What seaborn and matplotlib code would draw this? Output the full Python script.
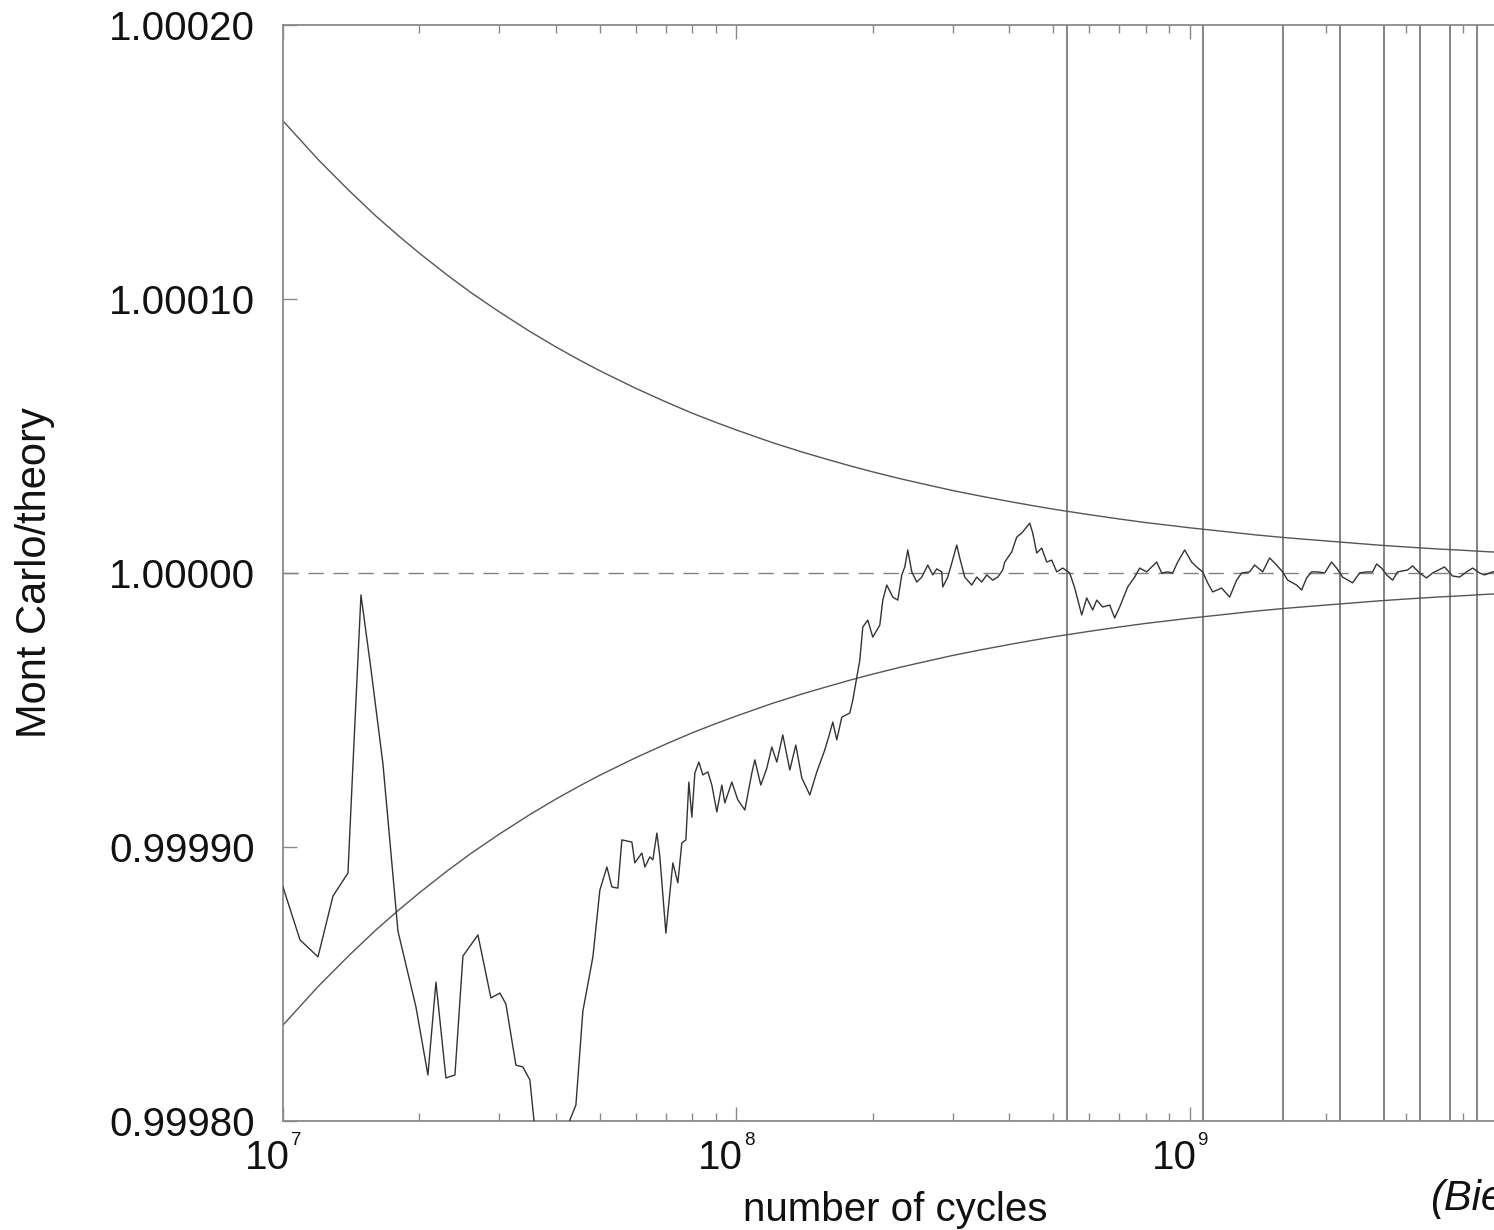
import numpy as np
import pandas as pd
import matplotlib
matplotlib.use("Agg")
import matplotlib.pyplot as plt
import seaborn as sns
from matplotlib.ticker import FixedLocator, LogLocator, NullFormatter, NullLocator, FixedFormatter

# ---------------- data ----------------
# Monte Carlo running ratio: log10(number of cycles) and deviation from 1 in units of 1e-5
mc_log10_cycles = [
    7.000, 7.0375, 7.0772, 7.1103, 7.1433, 7.1544, 7.1720, 7.1940, 7.2205, 7.2492,
    7.2536, 7.2933, 7.3197, 7.3374, 7.3594, 7.3793, 7.3969, 7.4300, 7.4587, 7.4785,
    7.4917, 7.5138, 7.5292, 7.5446, 7.5535, 7.5930, 7.6329, 7.6461, 7.6615,
    7.6836, 7.6990, 7.7145, 7.7255, 7.7387, 7.7475, 7.7696, 7.7762, 7.7916, 7.7983,
    7.8093, 7.8159, 7.8247, 7.8313, 7.8446, 7.8600, 7.8710, 7.8798, 7.8887, 7.8953,
    7.9019, 7.9085, 7.9173, 7.9261, 7.9372, 7.9460, 7.9570, 7.9680, 7.9747, 7.9901,
    8.0033, 8.0188, 8.0342, 8.0408, 8.0540, 8.0673, 8.0783, 8.0893, 8.1025, 8.1180,
    8.1312, 8.1444, 8.1621, 8.1775, 8.1951, 8.2062, 8.2128, 8.2216, 8.2327, 8.2503,
    8.2569, 8.2658, 8.2724, 8.2790, 8.2900, 8.3010, 8.3165, 8.3231, 8.3319, 8.3451,
    8.3561, 8.3650, 8.3716, 8.3782, 8.3870, 8.3980, 8.4091, 8.4223, 8.4333, 8.4421,
    8.4532, 8.4554, 8.4664, 8.4752, 8.4862, 8.4928, 8.5039, 8.5193, 8.5303, 8.5413,
    8.5524, 8.5656, 8.5766, 8.5877, 8.5921, 8.6075, 8.6185, 8.6296, 8.6406, 8.6472,
    8.6538, 8.6627, 8.6737, 8.6847, 8.6957, 8.7068, 8.7200, 8.7354, 8.7465, 8.7619,
    8.7729, 8.7862, 8.7950, 8.8082, 8.8236, 8.8346, 8.8457, 8.8633, 8.8787, 8.8898,
    8.9052, 8.9272, 8.9383, 8.9515, 8.9625, 8.9736, 8.9890, 9.0044, 9.0154, 9.0287,
    9.0397, 9.0507, 9.0706, 9.0882, 9.1036, 9.1147, 9.1323, 9.1433, 9.1610, 9.1764,
    9.1918, 9.2051, 9.2161, 9.2359, 9.2470, 9.2580, 9.2690, 9.2823, 9.2977, 9.3131,
    9.3241, 9.3374, 9.3594, 9.3749, 9.3903, 9.4035, 9.4124, 9.4234, 9.4344, 9.4477,
    9.4587, 9.4807, 9.4918, 9.5072, 9.5226, 9.5358, 9.5623, 9.5799, 9.5954, 9.6108,
    9.6240, 9.6395, 9.6505, 9.6681, 9.6836,
]
mc_dev_1e5 = [
    -11.46, -13.39, -14.01, -11.79, -10.95, -6.97, -0.80, -3.50, -6.97, -12.26,
    -13.07, -15.84, -18.32, -14.93, -18.43, -18.32, -13.98, -13.21, -15.51, -15.33,
    -15.73, -17.96, -18.03, -18.50, -19.96, -22.90, -19.96, -19.42, -15.99,
    -14.01, -11.57, -10.73, -11.46, -11.50, -9.74, -9.82, -10.58, -10.22, -10.73,
    -10.36, -10.47, -9.49, -10.36, -13.14, -10.58, -11.31, -9.85, -9.74, -7.63,
    -8.91, -7.30, -6.90, -7.37, -7.26, -7.74, -8.72, -7.74, -8.39, -7.63,
    -8.28, -8.65, -7.30, -6.82, -7.74, -7.12, -6.35, -6.90, -5.91, -7.19,
    -6.28, -7.48, -8.10, -7.26, -6.46, -5.84, -5.44, -6.09, -5.26, -5.11,
    -4.64, -3.80, -3.18, -1.97, -1.72, -2.34, -1.90, -0.99, -0.44, -0.88,
    -0.99, -0.07, 0.22, 0.84, 0.04, -0.33, -0.15, 0.29, -0.07, 0.15,
    0.04, -0.51, -0.15, 0.36, 1.02, 0.55, -0.15, -0.44, -0.15, -0.33,
    -0.07, -0.26, -0.15, 0.11, 0.40, 0.77, 1.31, 1.46, 1.68, 1.82,
    1.46, 0.73, 0.91, 0.40, 0.47, 0.04, 0.18, 0.00, -0.55, -1.53,
    -0.91, -1.35, -0.99, -1.24, -1.17, -1.64, -1.24, -0.51, -0.15, 0.18,
    0.04, 0.40, 0.00, 0.04, 0.00, 0.40, 0.84, 0.40, 0.22, 0.04,
    -0.36, -0.69, -0.55, -0.88, -0.26, 0.00, 0.04, 0.29, 0.04, 0.55,
    0.29, 0.04, -0.26, -0.44, -0.62, -0.18, 0.04, 0.04, 0.00, 0.40,
    0.18, -0.15, -0.36, 0.00, 0.04, 0.04, 0.33, 0.18, -0.07, -0.26,
    0.04, 0.11, 0.26, 0.00, -0.18, 0.00, 0.22, -0.11, -0.15, 0.04,
    0.18, 0.00, -0.07, 0.04, 0.04,
]

# 1-sigma envelope: cycles and half-width in units of 1e-5
band_cycles = [
    1.0e7, 1.2e7, 1.4e7, 1.6e7, 1.8e7, 2.0e7, 2.3e7, 2.6e7, 3.0e7, 3.5e7, 4.0e7, 4.5e7, 5.0e7, 6.0e7, 7.0e7, 8.0e7, 9.0e7,
    1.0e8, 1.2e8, 1.4e8, 1.6e8, 1.8e8, 2.0e8, 2.3e8, 2.6e8, 3.0e8, 3.5e8, 4.0e8, 4.5e8, 5.0e8, 6.0e8, 7.0e8, 8.0e8, 9.0e8,
    1.0e9, 1.2e9, 1.4e9, 1.6e9, 1.8e9, 2.0e9, 2.3e9, 2.6e9, 3.0e9, 3.5e9, 4.0e9, 4.5e9, 5.0e9, 6.0e9, 7.0e9, 8.0e9, 9.0e9,
    1.0e10,
]
band_halfwidth_1e5 = [
    16.50, 15.06, 13.95, 13.04, 12.30, 11.67, 10.88, 10.23, 9.53, 8.82, 8.25, 7.78, 7.38, 6.74, 6.24, 5.83, 5.50,
    5.22, 4.76, 4.41, 4.13, 3.89, 3.69, 3.44, 3.24, 3.01, 2.79, 2.61, 2.46, 2.33, 2.13, 1.97, 1.84, 1.74,
    1.65, 1.51, 1.39, 1.30, 1.23, 1.17, 1.09, 1.02, 0.95, 0.88, 0.83, 0.78, 0.74, 0.67, 0.62, 0.58, 0.55,
    0.52,
]

# vertical markers (batch boundaries)
batch_boundaries = [5.37e8, 1.07e9, 1.61e9, 2.15e9, 2.69e9, 3.22e9, 3.76e9, 4.30e9]

y_ticks = [0.99980, 0.99990, 1.00000, 1.00010, 1.00020]
y_tick_labels = ["0.99980", "0.99990", "1.00000", "1.00010", "1.00020"]
x_ticks = [1e7, 1e8, 1e9]
x_tick_bases = ["10", "10", "10"]
x_tick_exponents = ["7", "8", "9"]

x_label = "number of cycles"
y_label = "Mont Carlo/theory"
credit = "(Bielajew)"

# ---------------- build tables ----------------
mc = pd.DataFrame({
    "cycles": 10 ** np.array(mc_log10_cycles),
    "ratio": 1.0 + np.array(mc_dev_1e5) * 1e-5,
})
band = pd.DataFrame({
    "cycles": band_cycles,
    "upper": 1.0 + np.array(band_halfwidth_1e5) * 1e-5,
    "lower": 1.0 - np.array(band_halfwidth_1e5) * 1e-5,
})

# ---------------- style ----------------
sns.set_theme(style="ticks")
plt.rcParams["font.family"] = ["Liberation Sans", "DejaVu Sans"]

text_color = "#111111"
fig = plt.figure(figsize=(14.94, 12.30), dpi=100)
fig.patch.set_facecolor("white")
# axes run off the right edge of the picture, as in the reference
ax = fig.add_axes([0.18942, 0.08862, 0.91031, 0.89106])
ax.set_facecolor("white")
ax.set_xscale("log")

# vertical batch lines
for b in batch_boundaries:
    ax.axvline(b, color="#7a7a7a", linewidth=1.3, zorder=1)

# reference line at 1
ax.axhline(1.0, color="#808080", linewidth=1.0, dashes=(11, 7), zorder=1)

# envelope curves
sns.lineplot(data=band, x="cycles", y="upper", ax=ax, color="#555555",
             linewidth=1.0, estimator=None, sort=False, legend=False, zorder=2)
sns.lineplot(data=band, x="cycles", y="lower", ax=ax, color="#555555",
             linewidth=1.0, estimator=None, sort=False, legend=False, zorder=2)

# Monte Carlo running ratio
sns.lineplot(data=mc, x="cycles", y="ratio", ax=ax, color="#333333",
             linewidth=1.0, estimator=None, sort=False, legend=False, zorder=3)

ax.set_xlim(1e7, 1e10)
ax.set_ylim(0.99980, 1.00020)

ax.yaxis.set_major_locator(FixedLocator(y_ticks))
ax.yaxis.set_major_formatter(FixedFormatter(y_tick_labels))
ax.yaxis.set_minor_locator(NullLocator())
ax.xaxis.set_major_locator(FixedLocator(x_ticks))
ax.xaxis.set_major_formatter(NullFormatter())
ax.xaxis.set_minor_locator(LogLocator(base=10, subs=np.arange(2, 10)))
ax.xaxis.set_minor_formatter(NullFormatter())

spine_color = "#8a8a8a"
for s in ax.spines.values():
    s.set_color(spine_color)
    s.set_linewidth(1.3)
    s.set_visible(True)

ax.tick_params(axis="both", which="both", direction="in", color=spine_color,
               top=True, right=True, bottom=True, left=True)
ax.tick_params(axis="both", which="major", length=10, width=1.0)
ax.tick_params(axis="x", which="minor", length=6, width=1.0)
ax.tick_params(axis="y", which="major", labelsize=29, pad=20, labelcolor=text_color)

# x tick labels as "10" with a small raised exponent
for t, base, ex in zip(x_ticks, x_tick_bases, x_tick_exponents):
    ax.annotate(base, xy=(t, 0), xycoords=("data", "axes fraction"),
                xytext=(5, -34.6), textcoords="offset points",
                ha="right", va="baseline", fontsize=29, color=text_color,
                annotation_clip=False)
    ax.annotate(ex, xy=(t, 0), xycoords=("data", "axes fraction"),
                xytext=(5.5, -17.3), textcoords="offset points",
                ha="left", va="baseline", fontsize=13.5, color=text_color,
                annotation_clip=False)

ax.set_xlabel(x_label, fontsize=29, color=text_color)
ax.set_ylabel(y_label, fontsize=30, color=text_color)
ax.xaxis.set_label_coords(0.45, -0.064)
ax.yaxis.set_label_coords(-0.1676, 0.5)

fig.text(1430 / 1494, 20 / 1230, credit, fontsize=30, style="italic",
         ha="left", va="baseline", color=text_color)

fig.savefig("out.png", dpi=100, facecolor="white")
